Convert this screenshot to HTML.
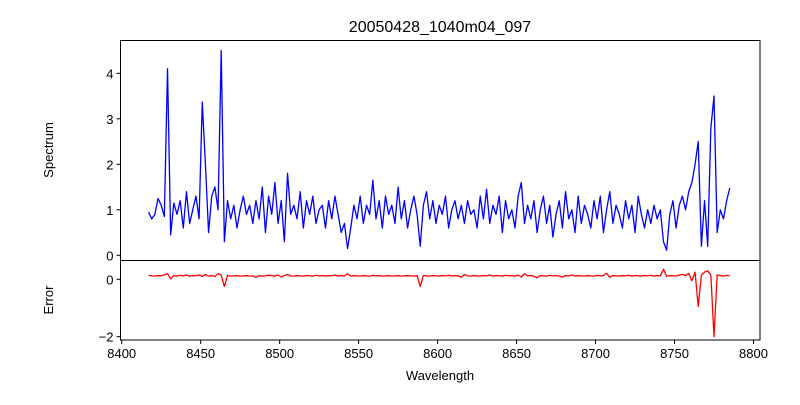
<!DOCTYPE html>
<html><head><meta charset="utf-8"><style>
body{margin:0;background:#fff;}
svg text{font-family:"Liberation Sans","DejaVu Sans",sans-serif;fill:#000;}
</style></head><body>
<svg id="chart" width="800" height="400" xmlns="http://www.w3.org/2000/svg">
<rect width="800" height="400" fill="#fff"/>
<text x="440" y="32" font-size="16" text-anchor="middle">20050428_1040m04_097</text>
<g id="gtop"></g><g id="gbot"></g><g id="gaxes"></g>
<text transform="translate(53,150) rotate(-90)" font-size="13" text-anchor="middle">Spectrum</text>
<text transform="translate(53,300) rotate(-90)" font-size="13" text-anchor="middle">Error</text>
<text x="440" y="380" font-size="13" text-anchor="middle">Wavelength</text>
</svg>
<script>
const waveStart = 8417.0;
const waveStep = 2.0;
const flux = [0.95,0.8,0.9,1.25,1.1,0.85,4.1,0.45,1.15,0.9,
1.2,0.6,1.4,0.7,1.0,1.3,0.8,3.37,2.0,0.5,
1.3,1.5,1.0,4.5,0.3,1.2,0.8,1.1,0.6,1.0,
1.3,0.9,1.1,0.7,1.2,0.8,1.5,0.5,1.3,0.9,
1.6,0.7,1.2,0.3,1.8,0.9,1.1,0.8,1.4,0.6,
1.2,0.9,1.3,0.7,1.0,1.1,0.6,1.2,0.8,1.3,
0.9,0.5,0.7,0.15,0.6,1.1,0.8,1.3,0.7,1.1,
0.9,1.65,0.8,1.2,0.6,1.3,0.9,1.1,0.7,1.5,
0.8,1.2,0.6,1.0,1.3,0.9,0.2,1.1,1.4,0.8,
1.2,0.7,1.1,0.9,1.3,0.6,1.0,1.2,0.8,1.1,
0.7,1.2,0.9,1.0,0.6,1.3,0.8,1.45,0.7,1.1,
0.9,1.3,0.5,1.2,0.8,1.0,0.6,1.3,1.6,0.7,
1.1,0.8,1.2,0.5,1.0,1.3,0.7,1.1,0.4,0.9,
1.2,0.6,1.4,0.8,1.0,0.5,1.3,0.7,1.1,0.9,
0.6,1.2,0.8,1.3,0.5,1.0,1.4,0.7,1.1,0.9,
0.6,1.2,0.8,1.1,0.5,1.3,0.9,0.6,1.0,0.7,
1.1,0.8,1.0,0.3,0.11,0.9,1.2,0.6,1.1,1.3,
1.0,1.4,1.6,2.0,2.5,0.2,1.2,0.2,2.8,3.5,
0.5,1.0,0.8,1.2,1.48];
const err = [0.14,0.12,0.11,0.13,0.12,0.15,0.2,0.02,0.13,0.11,
0.14,0.12,0.15,0.11,0.13,0.12,0.15,0.1,0.17,0.11,
0.13,0.1,0.2,0.15,-0.25,0.13,0.11,0.12,0.13,0.11,
0.12,0.13,0.11,0.12,0.07,0.13,0.11,0.12,0.14,0.13,
0.11,0.15,0.08,0.13,0.17,0.12,0.11,0.13,0.12,0.11,
0.13,0.12,0.11,0.14,0.12,0.13,0.11,0.13,0.12,0.15,
0.11,0.13,0.12,0.19,0.11,0.13,0.12,0.11,0.13,0.12,
0.11,0.14,0.12,0.13,0.11,0.12,0.13,0.11,0.12,0.13,
0.11,0.12,0.13,0.12,0.11,0.13,-0.25,0.13,0.12,0.11,
0.13,0.12,0.11,0.13,0.12,0.14,0.11,0.13,0.12,0.07,
0.17,0.12,0.11,0.13,0.12,0.11,0.13,0.12,0.15,0.11,
0.13,0.12,0.11,0.14,0.12,0.13,0.11,0.15,0.08,0.19,
0.12,0.13,0.11,0.05,0.13,0.12,0.11,0.14,0.12,0.13,
0.11,0.08,0.13,0.12,0.15,0.11,0.13,0.12,0.11,0.13,
0.12,0.11,0.14,0.12,0.13,0.21,0.07,0.13,0.12,0.11,
0.13,0.12,0.14,0.11,0.13,0.12,0.11,0.13,0.12,0.14,
0.11,0.13,0.12,0.35,0.1,0.13,0.12,0.11,0.15,0.17,
0.13,0.2,-0.05,0.25,-0.95,0.15,0.25,0.3,0.15,-2.0,
0.15,0.13,0.11,0.14,0.12];
const xTicks = [8400,8450,8500,8550,8600,8650,8700,8750,8800];
const yTicksTop = [0,1,2,3,4];
const yTicksBot = [0,-2];

const L=120.5,R=760,T=40.5,M=260.5,B=340;
const xs=w=>121.7+(w-8400)*(753.5-121.7)/400;
const yt=v=>255.3-v*(255.3-73.3)/4;
const yb=v=>279.3-v*(336.7-279.3)/2;
const NS='http://www.w3.org/2000/svg';
function mk(tag,attrs,parent){const e=document.createElementNS(NS,tag);for(const k in attrs)e.setAttribute(k,attrs[k]);parent.appendChild(e);return e;}
const gTop=document.getElementById('gtop'),gBot=document.getElementById('gbot'),gAxes=document.getElementById('gaxes');
let p1='',p2='';
flux.forEach((v,i)=>{const w=waveStart+waveStep*i;p1+=(i?'L':'M')+xs(w).toFixed(2)+','+yt(v).toFixed(2);});
err.forEach((v,i)=>{const w=waveStart+waveStep*i;p2+=(i?'L':'M')+xs(w).toFixed(2)+','+yb(v).toFixed(2);});
const l1=mk('path',{d:p1,fill:'none',stroke:'#0000ff','stroke-width':1.3,'stroke-linejoin':'round'},gTop);


const l2=mk('path',{d:p2,fill:'none',stroke:'#ff0000','stroke-width':1.3,'stroke-linejoin':'round'},gBot);


const f1=mk('rect',{x:L,y:T,width:R-L,height:M-T,fill:'none',stroke:'#000','stroke-width':1},gAxes);


const f2=mk('rect',{x:L,y:M,width:R-L,height:B-M,fill:'none',stroke:'#000','stroke-width':1},gAxes);


xTicks.forEach(t=>{const x=xs(t);
 mk('line',{x1:x,x2:x,y1:B,y2:B+4,stroke:'#000'},gAxes);
 const tx=mk('text',{x:x,y:B+18,'font-size':13,'text-anchor':'middle'},gAxes);tx.textContent=t;
 
 });
yTicksTop.forEach(t=>{const y=yt(t);
 mk('line',{x1:L-4,x2:L,y1:y,y2:y,stroke:'#000'},gAxes);
 const tx=mk('text',{x:L-7,y:y+5,'font-size':13,'text-anchor':'end'},gAxes);tx.textContent=t;
 
 });
yTicksBot.forEach(t=>{const y=yb(t);
 mk('line',{x1:L-4,x2:L,y1:y,y2:y,stroke:'#000'},gAxes);
 const tx=mk('text',{x:L-7,y:y+5,'font-size':13,'text-anchor':'end'},gAxes);tx.textContent=t<0?'\u2212'+(-t):t;
 
 });
</script>
</body></html>
